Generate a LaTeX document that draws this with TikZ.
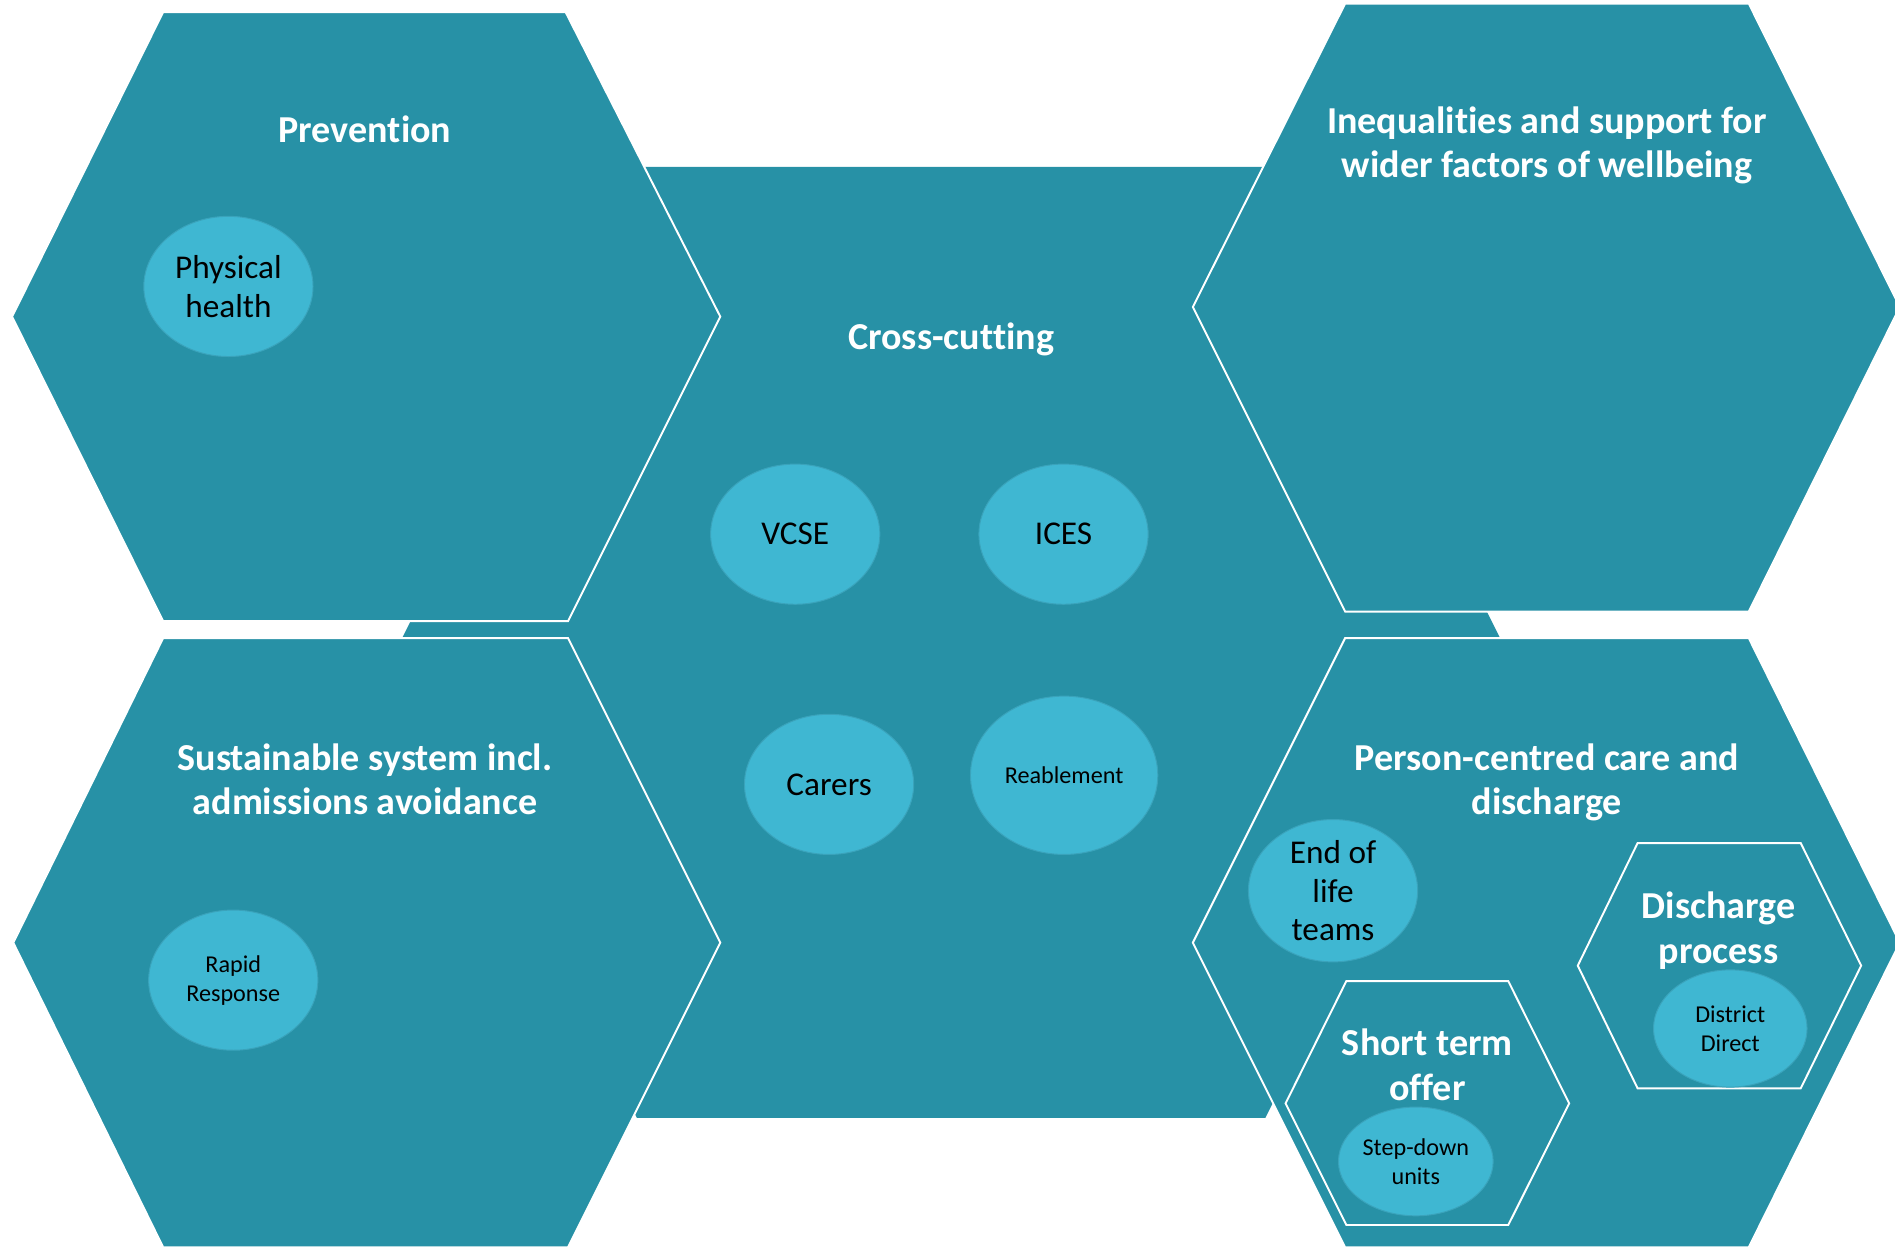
\documentclass[tikz,border=0pt]{standalone}
\usepackage{fontspec}
\setmainfont{Carlito}[Ligatures=NoCommon]
\usetikzlibrary{shapes.geometric}
\definecolor{teal1}{HTML}{2791A6}
\definecolor{cyan1}{HTML}{3FB7D2}
\definecolor{cyanedge}{HTML}{3AA3BB}
\tikzset{
  hexbox/.style={fill=teal1, draw=white, line width=1.6pt, line join=miter},
  blob/.style={ellipse, fill=cyan1, draw=cyanedge, line width=0.8pt, inner sep=0pt, align=center, text=black},
  title/.style={text=white, font=\bfseries\fontsize{31.5}{36.5}\selectfont, align=center, inner sep=0pt},
  btext/.style={font=\fontsize{27.5}{32}\selectfont},
  stext/.style={font=\fontsize{20}{24}\selectfont}
}
\begin{document}
\begin{tikzpicture}[x=1pt,y=-1pt]
\useasboundingbox (0,0) rectangle (1568,1031);
\clip (0,0) rectangle (1568,1031);
% centre shape
\fill[teal1] (331,531.5) -- (527,138) -- (1047,138) -- (1243,531.5) -- (1047,925) -- (527,925) -- cycle;
% outer hexagons
\draw[hexbox] (10,262) -- (135,10) -- (468,10) -- (596,262) -- (470,514) -- (135,514) -- cycle;
\draw[hexbox] (11,780) -- (135,528) -- (470,528) -- (596,780) -- (470,1032) -- (135,1032) -- cycle;
\draw[hexbox] (987,254) -- (1113,3) -- (1447,3) -- (1572,254) -- (1447,506) -- (1113,506) -- cycle;
\draw[hexbox] (987,780) -- (1113,528) -- (1447,528) -- (1572,780) -- (1447,1032) -- (1113,1032) -- cycle;
% inner hexagons
\draw[hexbox] (1305.5,799) -- (1355,697.6) -- (1490,697.6) -- (1540,799) -- (1490,900.5) -- (1355,900.5) -- cycle;
\draw[hexbox] (1063.7,913) -- (1114,811.8) -- (1248,811.8) -- (1298.4,913) -- (1248,1013.6) -- (1114,1013.6) -- cycle;
% titles
\node[title] (tprev) at (302,107) {Prevention};
\node[title] (tcross) at (787,281) {Cross-cutting};
\node[title] (tineq) at (1280,120) {Inequalities and support for\\wider factors of wellbeing};
\node[title] (tsus) at (302,645) {Sustainable system incl.\\admissions avoidance};
\node[title] (tperson) at (1280,647) {Person-centred care and\\discharge};
\node[title] (tdis) at (1422,770) {Discharge\\process};
\node[title] (tshort) at (1181,881) {Short term\\offer};
% ellipses
\node[blob, btext, minimum width=140pt, minimum height=116pt] (phys) at (189,237) {Physical\\health};
\node[blob, btext, minimum width=140pt, minimum height=116pt] (vcse) at (658,442) {VCSE};
\node[blob, btext, minimum width=140pt, minimum height=116pt] (ices) at (880,442) {ICES};
\node[blob, btext, minimum width=140pt, minimum height=116pt] (carers) at (686,649) {Carers};
\node[blob, stext, minimum width=155pt, minimum height=131pt] (reab) at (880.5,641.5) {Reablement};
\node[blob, stext, minimum width=140pt, minimum height=116pt] (rapid) at (193,811) {Rapid\\Response};
\node[blob, btext, minimum width=140pt, minimum height=116pt] (eol) at (1103,737) {End of\\life\\teams};
\node[blob, stext, minimum width=127pt, minimum height=97pt] (dd) at (1431.7,851) {District\\Direct};
\node[blob, stext, minimum width=128pt, minimum height=90pt] (sdu) at (1171.5,961) {Step-down\\units};
\end{tikzpicture}
\end{document}
